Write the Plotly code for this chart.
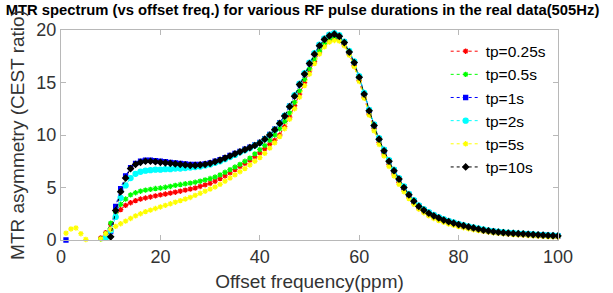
import plotly.graph_objects as go

N = None
offset_ppm = list(range(1, 101))

tp_025 = [N, N, N, N, N, N, N, 0.2, 0.7, 1.5,
          2.2, 2.9, 3.3, 3.55, 3.75, 3.9, 4.0, 4.1, 4.2, 4.3,
          4.38, 4.46, 4.55, 4.65, 4.75, 4.85, 4.95, 5.1, 5.25, 5.4,
          5.6, 5.85, 6.1, 6.4, 6.7, 7.0, 7.3, 7.6, 7.95, 8.3,
          8.7, 9.1, 9.5, 10.0, 10.8, 11.7, 12.8, 13.9, 15.0, 16.1,
          17.0, 17.9, 18.6, 19.0, 19.2, 19.1, 18.6, 17.7, 16.6, 15.2,
          13.6, 12.0, 10.6, 9.3, 8.2, 7.2, 6.3, 5.5, 4.8, 4.1,
          3.5, 3.0, 2.7, 2.4, 2.15, 1.95, 1.77, 1.62, 1.48, 1.36,
          1.25, 1.15, 1.05, 0.96, 0.87, 0.8, 0.73, 0.68, 0.63, 0.59,
          0.56, 0.53, 0.5, 0.48, 0.45, 0.42, 0.4, 0.37, 0.35, 0.33]

tp_05 = [N, N, N, N, N, N, N, 0.1, 0.6, 1.6,
         2.6, 3.4, 3.9, 4.3, 4.5, 4.65, 4.75, 4.82, 4.9, 4.95,
         5.02, 5.1, 5.2, 5.28, 5.35, 5.42, 5.5, 5.6, 5.72, 5.85,
         6.0, 6.2, 6.45, 6.7, 6.95, 7.2, 7.5, 7.8, 8.2, 8.6,
         9.0, 9.5, 10.0, 10.6, 11.3, 12.1, 13.1, 14.2, 15.3, 16.3,
         17.2, 18.0, 18.7, 19.1, 19.3, 19.2, 18.7, 17.8, 16.8, 15.4,
         13.8, 12.2, 10.8, 9.5, 8.4, 7.4, 6.5, 5.7, 4.9, 4.2,
         3.6, 3.1, 2.78, 2.49, 2.25, 2.05, 1.86, 1.71, 1.56, 1.43,
         1.32, 1.21, 1.11, 1.02, 0.92, 0.84, 0.77, 0.72, 0.67, 0.63,
         0.6, 0.57, 0.55, 0.52, 0.49, 0.46, 0.43, 0.41, 0.39, 0.37]

tp_1 = [0.0, N, N, N, N, N, N, N, N, 0.8,
        3.2, 4.9, 6.1, 6.9, 7.3, 7.5, 7.6, 7.6, 7.55, 7.5,
        7.45, 7.4, 7.35, 7.3, 7.25, 7.2, 7.2, 7.2, 7.25, 7.35,
        7.5, 7.65, 7.85, 8.05, 8.25, 8.45, 8.65, 8.85, 9.05, 9.3,
        9.65, 10.05, 10.55, 11.15, 11.85, 12.75, 13.75, 14.85, 15.85, 16.85,
        17.75, 18.55, 19.15, 19.5, 19.65, 19.45, 18.85, 17.95, 16.95, 15.55,
        13.95, 12.35, 10.95, 9.65, 8.55, 7.55, 6.65, 5.85, 5.05, 4.35,
        3.75, 3.25, 2.9, 2.6, 2.35, 2.12, 1.93, 1.77, 1.62, 1.49,
        1.37, 1.26, 1.16, 1.06, 0.96, 0.88, 0.81, 0.76, 0.71, 0.67,
        0.64, 0.61, 0.58, 0.55, 0.52, 0.49, 0.46, 0.44, 0.42, 0.4]

tp_2 = [N, N, N, N, N, N, N, N, 0.2, 0.9,
        2.2, 4.0, 5.2, 5.9, 6.3, 6.5, 6.6, 6.65, 6.7, 6.7,
        6.75, 6.75, 6.8, 6.8, 6.85, 6.9, 6.95, 7.0, 7.1, 7.2,
        7.35, 7.5, 7.7, 7.9, 8.1, 8.35, 8.55, 8.75, 9.0, 9.25,
        9.6, 10.0, 10.5, 11.1, 11.85, 12.75, 13.8, 14.9, 15.9, 16.9,
        17.8, 18.6, 19.2, 19.55, 19.7, 19.5, 18.9, 18.0, 17.0, 15.6,
        14.0, 12.4, 11.0, 9.7, 8.6, 7.6, 6.7, 5.9, 5.1, 4.4,
        3.8, 3.3, 2.95, 2.65, 2.4, 2.18, 1.98, 1.82, 1.67, 1.53,
        1.41, 1.3, 1.2, 1.1, 1.0, 0.92, 0.85, 0.79, 0.74, 0.7,
        0.67, 0.64, 0.61, 0.58, 0.55, 0.52, 0.49, 0.46, 0.44, 0.42]

tp_5 = [0.65, 1.05, 1.15, 0.6, 0.05, N, N, 0.1, 0.6, 1.0,
        1.3, 1.55, 1.8, 2.05, 2.3, 2.5, 2.7, 2.85, 3.0, 3.15,
        3.3, 3.45, 3.6, 3.75, 3.9, 4.05, 4.25, 4.45, 4.65, 4.85,
        5.05, 5.3, 5.6, 5.9, 6.2, 6.5, 6.8, 7.15, 7.5, 7.85,
        8.25, 8.75, 9.25, 9.85, 10.6, 11.5, 12.5, 13.6, 14.7, 15.8,
        16.8, 17.7, 18.4, 18.85, 19.0, 18.95, 18.5, 17.6, 16.5, 15.1,
        13.5, 11.9, 10.4, 9.1, 8.0, 7.0, 6.1, 5.3, 4.6, 3.95,
        3.4, 2.95, 2.6, 2.3, 2.05, 1.85, 1.68, 1.52, 1.4, 1.28,
        1.17, 1.07, 0.98, 0.9, 0.82, 0.75, 0.69, 0.64, 0.6, 0.56,
        0.52, 0.49, 0.46, 0.43, 0.4, 0.38, 0.35, 0.33, 0.31, 0.29]

tp_10 = [N, N, N, N, N, N, N, N, N, 0.3,
         2.8, 4.6, 5.9, 6.8, 7.2, 7.4, 7.5, 7.5, 7.45, 7.4,
         7.35, 7.3, 7.25, 7.2, 7.15, 7.1, 7.1, 7.15, 7.2, 7.3,
         7.45, 7.6, 7.8, 8.0, 8.2, 8.4, 8.6, 8.8, 9.0, 9.25,
         9.6, 10.0, 10.5, 11.1, 11.8, 12.7, 13.7, 14.8, 15.8, 16.8,
         17.7, 18.5, 19.1, 19.45, 19.6, 19.4, 18.8, 17.9, 16.9, 15.5,
         13.9, 12.3, 10.9, 9.6, 8.5, 7.5, 6.6, 5.8, 5.0, 4.3,
         3.7, 3.2, 2.85, 2.55, 2.3, 2.1, 1.9, 1.75, 1.6, 1.47,
         1.36, 1.25, 1.15, 1.05, 0.95, 0.87, 0.8, 0.75, 0.7, 0.66,
         0.63, 0.6, 0.58, 0.55, 0.52, 0.49, 0.46, 0.43, 0.41, 0.39]

series_names = ["tp=0.25s", "tp=0.5s", "tp=1s", "tp=2s", "tp=5s", "tp=10s"]
series_values = [tp_025, tp_05, tp_1, tp_2, tp_5, tp_10]
series_colors = ["#ff0000", "#00ff00", "#0000ff", "#00ffff", "#ffff00", "#000000"]
series_symbols = ["asterisk-open", "asterisk-open", "square", "circle", "asterisk-open", "diamond"]
series_sizes = [4.5, 4.5, 4, 5, 4.5, 4.5]

x_ticks = [0, 20, 40, 60, 80, 100]
y_ticks = [0, 5, 10, 15, 20]

FONT = "Liberation Sans, Arial, sans-serif"

fig = go.Figure()
for name, vals, col, sym, sz in zip(series_names, series_values, series_colors,
                                    series_symbols, series_sizes):
    fig.add_trace(go.Scatter(
        x=offset_ppm, y=vals, name=name, mode="lines+markers",
        line=dict(color=col, width=1, dash="dot"),
        marker=dict(color=col, symbol=sym, size=sz, line=dict(color=col, width=1.3)),
        connectgaps=False, cliponaxis=False,
    ))

axis_common = dict(
    showline=True, linecolor="#b8b8b8", linewidth=1, mirror="ticks",
    ticks="inside", ticklen=5, tickcolor="#b8b8b8",
    showgrid=False, zeroline=False, automargin=False,
    tickfont=dict(family=FONT, size=18, color="#333333"),
)

fig.update_layout(
    width=613, height=293,
    margin=dict(l=61, r=55, t=30, b=53),
    paper_bgcolor="white", plot_bgcolor="white",
    title=dict(
        text="<b>MTR spectrum (vs offset freq.) for various RF pulse durations in the real data(505Hz)</b>",
        x=0.4935, xanchor="center", xref="container", yref="container",
        y=1 - 10 / 293, yanchor="middle",
        font=dict(family=FONT, size=14.8, color="#000000"),
    ),
    xaxis=dict(range=[0, 100], tickvals=x_ticks,
               title=dict(text="Offset frequency(ppm)", standoff=9,
                          font=dict(family=FONT, size=19, color="#333333")),
               **axis_common),
    yaxis=dict(range=[0, 20], tickvals=y_ticks,
               title=dict(text="MTR asymmetry (CEST ratio)", standoff=6,
                          font=dict(family=FONT, size=19, color="#333333")),
               **axis_common),
    legend=dict(x=0.774, xanchor="left", y=0.978, yanchor="top",
                bgcolor="rgba(0,0,0,0)", borderwidth=0,
                font=dict(family=FONT, size=15.5, color="#000000"),
                itemwidth=30, tracegroupgap=0),
    showlegend=True,
)

fig.write_html("out.html", config={"displayModeBar": False},
               post_script="document.body.style.margin='0';")
